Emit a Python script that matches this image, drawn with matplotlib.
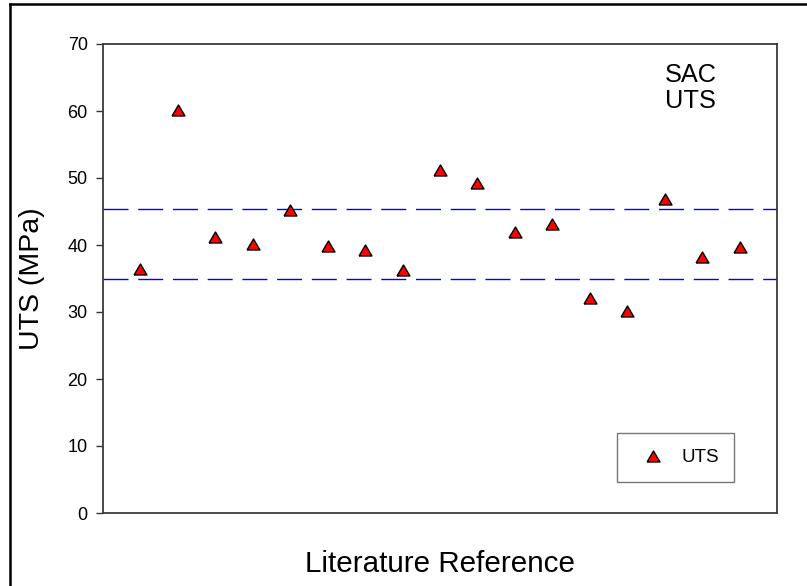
import matplotlib
matplotlib.use("Agg")
import matplotlib.pyplot as plt
from matplotlib.lines import Line2D

plt.rcParams['font.family'] = ['Liberation Sans', 'DejaVu Sans']
plt.rcParams['lines.scale_dashes'] = False

# Data
ref_index = list(range(1, 18))
uts_values = [36.4, 60.2, 41.2, 40.2, 45.2, 39.8, 39.2, 36.2, 51.2,
              49.2, 42.0, 43.2, 32.1, 30.1, 46.9, 38.2, 39.7]
band_upper = 45.4
band_lower = 35.0
y_ticks = [0, 10, 20, 30, 40, 50, 60, 70]

W, H = 807, 586
fig = plt.figure(figsize=(W / 100, H / 100), dpi=100)
ax = fig.add_axes([103 / W, 1 - 513 / H, (777 - 103) / W, (513 - 44) / H])

tri = [(-1, -0.85), (1, -0.85), (0, 0.85), (-1, -0.85)]

ax.axhline(band_upper, color='#0000ff', lw=1.0, dashes=(18, 7))
ax.axhline(band_lower, color='#0000ff', lw=1.0, dashes=(18, 7))

ax.plot(ref_index, uts_values, linestyle='none', marker=tri, markersize=9.3,
        markerfacecolor='#ff0000', markeredgecolor='black', markeredgewidth=1.0,
        label='UTS', zorder=3)

ax.set_xlim(0, 18)
ax.set_ylim(0, 70)
ax.set_yticks(y_ticks)
ax.set_xticks([])
ax.tick_params(axis='y', direction='out', length=5, width=1.0, pad=6,
               labelsize=13, colors='#333333', labelcolor='black')
for s in ax.spines.values():
    s.set_color('#3a3a3a')
    s.set_linewidth(1.3)

fig.text(32 / W, 1 - 279 / H, 'UTS (MPa)', rotation=90, fontsize=20.5,
         ha='center', va='center')
fig.text(440 / W, 1 - 564 / H, 'Literature Reference', fontsize=21.3,
         ha='center', va='center')

fig.text(665 / W, 1 - 82 / H, 'SAC', fontsize=18.3, ha='left', va='baseline')
fig.text(665 / W, 1 - 107.5 / H, 'UTS', fontsize=18.3, ha='left', va='baseline')

leg = ax.legend(loc='lower left', bbox_to_anchor=((617 - 103) / (777 - 103), (513 - 482) / (513 - 44),
                                                  (734 - 617) / (777 - 103), (482 - 435) / (513 - 44)),
                mode='expand', numpoints=1, fontsize=13.5, frameon=True, fancybox=False,
                borderpad=0.85, handletextpad=0.5, borderaxespad=0, handlelength=2.1)
leg.get_frame().set_edgecolor('#555555')
leg.get_frame().set_linewidth(1.0)

# figure border (top and left)
fig.add_artist(Line2D([10 / W, 10 / W], [0, 1 - 4 / H], color='black', lw=1.8, transform=fig.transFigure))
fig.add_artist(Line2D([10 / W, 1], [1 - 4 / H, 1 - 4 / H], color='black', lw=1.8, transform=fig.transFigure))

fig.savefig('out.png', dpi=100)
